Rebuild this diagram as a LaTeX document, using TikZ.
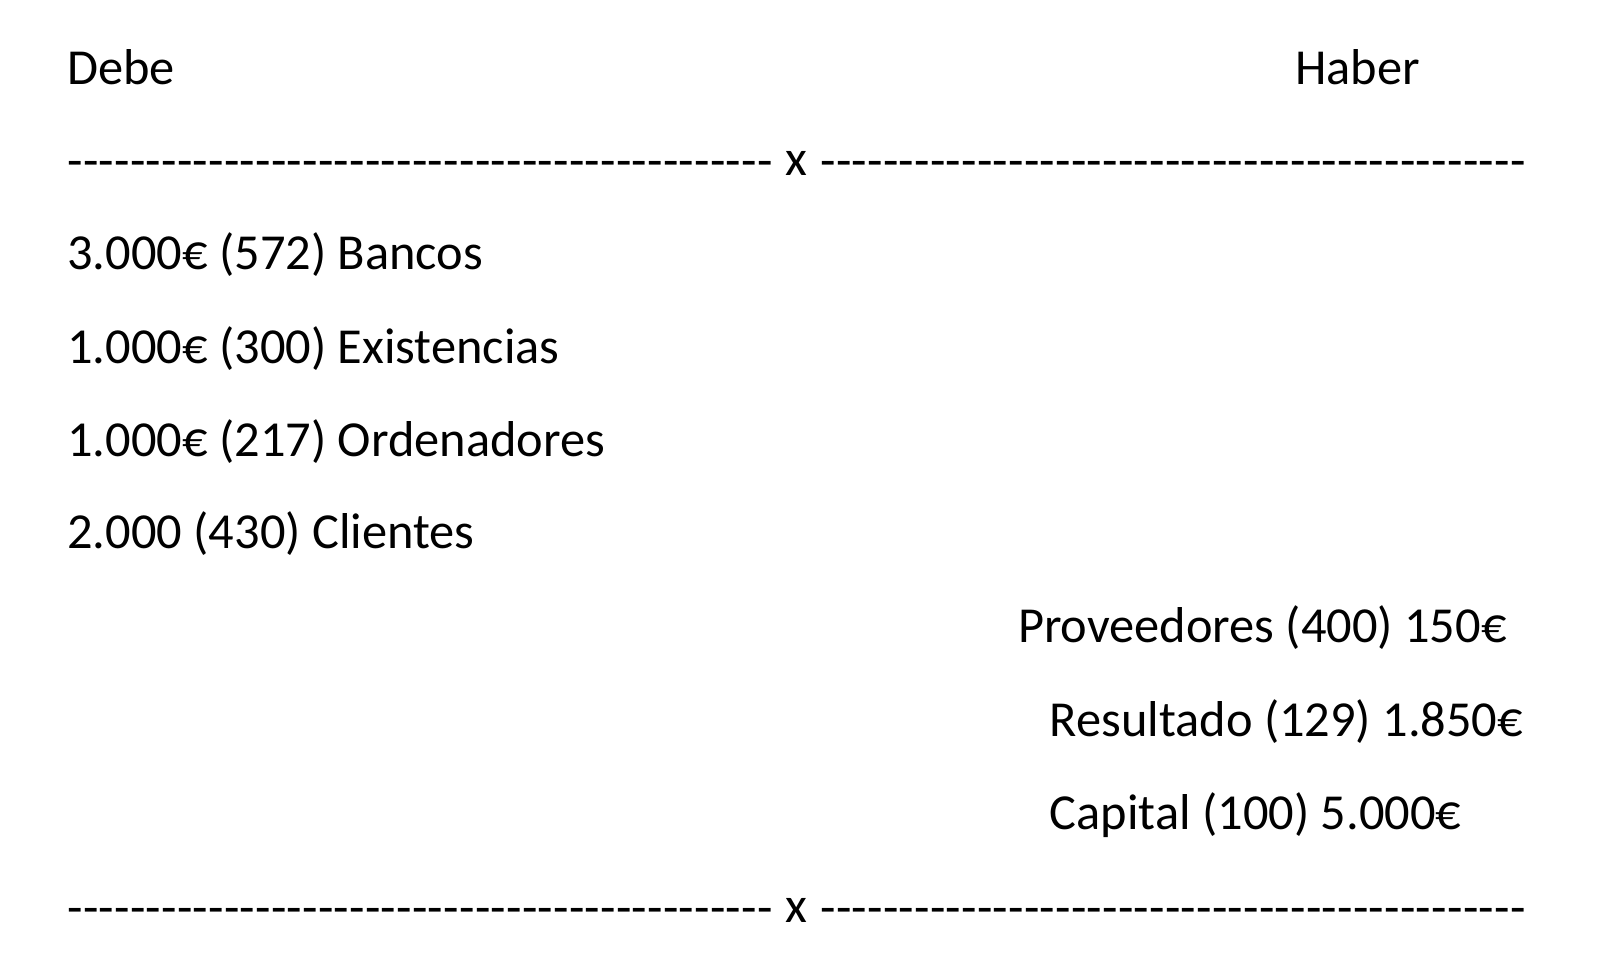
\documentclass[tikz,border=0pt]{standalone}
\usepackage{fontspec}
\setmainfont{Carlito}
\newcommand{\dashrun}{\hbox to 353pt{\xleaders\hbox{-}\hfill}}
\begin{document}
\begin{tikzpicture}[x=0.515pt,y=-0.515pt,
  entry/.style={anchor=base west,inner sep=0pt,font=\fontsize{25.2}{30}\selectfont},
  rule/.style={anchor=center,inner sep=0pt,font=\fontsize{25.2}{30}\selectfont}]
\useasboundingbox (0,0) rectangle (1569,940);

% Headings
\node[entry] (debe) at (65,82) {Debe};
\node[entry] (haber) at (1257,82) {Haber};

% Top separator
\node[rule] (topl) at (408,165) {\dashrun};
\node[rule] (topx) at (773,159) {x};
\node[rule] (topr) at (1139,165) {\dashrun};

% Debe side
\node[entry] (bancos) at (65,262) {3.000€ (572) Bancos};
\node[entry] (exist) at (65,353) {1.000€ (300) Existencias};
\node[entry] (orden) at (65,443) {1.000€ (217) Ordenadores};
\node[entry] (clientes) at (65,533) {2.000 (430) Clientes};

% Haber side
\node[entry] (prov) at (988,624) {Proveedores (400) 150€};
\node[entry] (result) at (1019,715) {Resultado (129) 1.850€};
\node[entry] (capital) at (1019,805) {Capital (100) 5.000€};

% Bottom separator
\node[rule] (botl) at (408,890) {\dashrun};
\node[rule] (botx) at (773,884) {x};
\node[rule] (botr) at (1139,890) {\dashrun};
\end{tikzpicture}
\end{document}
